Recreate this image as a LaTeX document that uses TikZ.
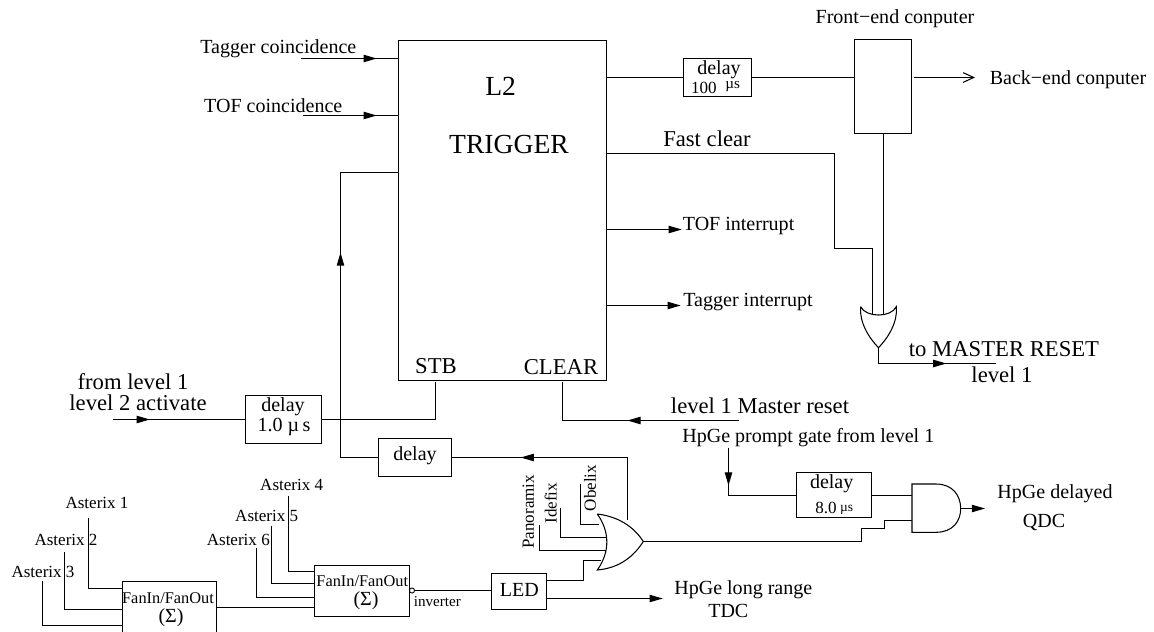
\documentclass[tikz,border=0pt]{standalone}
\usepackage{fontspec}
\setmainfont{Liberation Serif}
\usetikzlibrary{arrows.meta,decorations.markings}

\tikzset{
  wire/.style={line width=0.6pt},
  blockbox/.style 2 args={draw, line width=0.6pt, inner sep=0pt, outer sep=0pt,
      minimum width=#1*0.567pt, minimum height=#2*0.567pt},
  lbl/.style={inner sep=0pt, outer sep=0pt},
  txtL/.style={lbl, font=\fontsize{15.7}{18}\selectfont},
  txtM/.style={lbl, font=\fontsize{12.9}{15}\selectfont},
  txtN/.style={lbl, font=\fontsize{11.4}{13}\selectfont},
  txtS/.style={lbl, font=\fontsize{9.7}{11}\selectfont},
  txtF/.style={lbl, font=\fontsize{9.3}{11}\selectfont},
  txtT/.style={lbl, font=\fontsize{8.6}{10}\selectfont},
  endtip/.style={wire, -{Triangle[length=7.5pt,width=4.2pt]}},
  tipat/.style={wire, postaction={decorate, decoration={markings,
      mark=at position #1*0.567pt with {\arrow{Triangle[length=7.5pt,width=4.2pt]}}}}},
}

\begin{document}
\begin{tikzpicture}[x=0.02cm,y=-0.02cm]
  \useasboundingbox (0,0) rectangle (1154,632);

  % --- L2 trigger ---
  \node[blockbox={208}{342}] (trig) at (502.5,210.5) {};
  \node[txtL] (trigA) at (500.7,86) {L2};
  \node[txtL] (trigB) at (509,145) {TRIGGER};
  \node[txtM] (trigStb) at (436,366) {STB};
  \node[txtM] (trigClr) at (561,367) {CLEAR};

  % Trigger inputs
  \node[txtN] (tagCoin) at (278.3,49.2) {Tagger coincidence};
  \node[txtN] (tofCoin) at (273.3,105.7) {TOF coincidence};
  \coordinate (tagIn) at (301,58.5);
  \coordinate (tofIn) at (303,115.5);
  \draw[tipat=76] (tagIn) -- (tagIn -| trig.west);
  \draw[tipat=74] (tofIn) -- (tofIn -| trig.west);

  % --- Computers ---
  \node[blockbox={68}{38}] (delayC) at (717.5,77.5) {};
  \node[txtN] (delayCa) at (719,69.3) {delay};
  \node[txtS] (delayCb) at (703.8,87.5) {100};
  \node[txtT] (delayCc) at (732.7,86.5) {µs};
  \node[blockbox={57}{94}] (front) at (883,86.5) {};
  \node[txtN] (frontLbl) at (895,18.8) {Front−end conputer};
  \node[txtN] (backLbl) at (1068,79.3) {Back−end conputer};
  \coordinate (backA) at (914,77.5);
  \coordinate (backB) at (975,77.5);
  \draw[wire] (delayC.west -| trig.east) -- (delayC.west);
  \draw[wire] (delayC.east) -- (delayC.east -| front.west);
  \draw[wire, -{Straight Barb[length=6pt,width=5.5pt]}] (backA) -- (backB);

  % --- Fast clear and interrupts ---
  \node[txtM] (fastLbl) at (707,138.7) {Fast clear};
  \node[txtN] (tofInt) at (738.6,226) {TOF interrupt};
  \node[txtN] (tagInt) at (748,302) {Tagger interrupt};
  \coordinate (fastA) at (606.5,153.5);
  \coordinate (tofOut) at (681.8,229.5);
  \coordinate (tagOut) at (680.7,305.5);
  \draw[endtip] (tofOut -| trig.east) -- (tofOut);
  \draw[endtip] (tagOut -| trig.east) -- (tagOut);

  % OR gate to master reset
  \coordinate (orTopA) at (872.5,314);
  \coordinate (orTopB) at (883.5,314);
  \coordinate (orTip) at (878.5,347.7);
  \draw[wire] (860.7,306.7) .. controls (866,317.8) and (891,317.8) .. (896.3,306.7)
      .. controls (898,322) and (888,338) .. (orTip)
      .. controls (869,338) and (859,322) .. (860.7,306.7);
  \draw[wire] (fastA -| trig.east) -- (834.5,153.5) -- (834.5,248.5) -- (872.5,248.5) -- (orTopA);
  \draw[wire] (front.south -| orTopB) -- (orTopB);
  \coordinate (resetEnd) at (996,363.5);
  \draw[tipat=84] (orTip) -- (orTip |- resetEnd) -- (resetEnd);
  \node[txtM] (resetA) at (1004,349.2) {to MASTER RESET};
  \node[txtM] (resetB) at (1002,374.7) {level 1};

  % --- Level 1 inputs ---
  \node[txtM] (fromA) at (133,382) {from level 1};
  \node[txtM] (fromB) at (138,402.5) {level 2 activate};
  \node[blockbox={76}{48}] (delayA) at (283.5,419.5) {};
  \node[txtN] (delayAa) at (283,407) {delay};
  \node[txtN] (delayAb) at (284,427) {1.0 µ\,s};
  \coordinate (fromIn) at (113,419.5);
  \draw[tipat=37] (fromIn) -- (delayA.west);
  \draw[wire] (delayA.east) -- (435.5,419.5) -- (435.5,381.5);

  \node[txtM] (masterLbl) at (760,406) {level 1 Master reset};
  \coordinate (masterIn) at (739,420.5);
  \draw[tipat=112] (masterIn) -- (562.5,420.5) -- (562.5,381.5);

  % --- Feedback through delay ---
  \node[blockbox={73}{38}] (delayB) at (415,457.5) {};
  \node[txtN] (delayBa) at (415,455.5) {delay};
  \coordinate (fbTop) at (398,172.5);
  \draw[tipat=244] (delayB.west) -- (340.5,457.5) -- (340.5,172.5) -- (fbTop);

  % --- Asterix fan-in ---
  \node[blockbox={94}{60}] (fanA) at (169.5,611.5) {};
  \node[txtF] (fanAa) at (168,597.7) {FanIn/FanOut};
  \node[txtN] (fanAb) at (171,617.7) {(Σ)};
  \node[blockbox={95}{51}] (fanB) at (362,591) {};
  \node[txtF] (fanBa) at (362.3,580.7) {FanIn/FanOut};
  \node[txtN] (fanBb) at (366,601) {(Σ)};
  \node[txtS] (astA) at (97,503) {Asterix 1};
  \node[txtS] (astB) at (66,540.3) {Asterix 2};
  \node[txtS] (astC) at (43,572.3) {Asterix 3};
  \node[txtS] (astD) at (291.7,484.6) {Asterix 4};
  \node[txtS] (astE) at (266.7,515.6) {Asterix 5};
  \node[txtS] (astF) at (238.3,540) {Asterix 6};
  \draw[wire] (88.5,518.3) -- (88.5,588.5) -- (fanA.west |- 0,588.5);
  \draw[wire] (64.5,552) -- (64.5,609.5) -- (fanA.west |- 0,609.5);
  \draw[wire] (42.5,581.3) -- (42.5,625.5) -- (fanA.west |- 0,625.5);
  \draw[wire] (288.5,495.7) -- (288.5,571.5) -- (fanB.west |- 0,571.5);
  \draw[wire] (271.5,525.7) -- (271.5,583.5) -- (fanB.west |- 0,583.5);
  \draw[wire] (256.5,548.3) -- (256.5,597.5) -- (fanB.west |- 0,597.5);
  \draw[wire] (fanA.east |- 0,607.5) -- (fanB.west |- 0,607.5);

  % --- Inverter and LED ---
  \node[draw, circle, line width=0.5pt, inner sep=0pt, minimum size=2.9pt] (inv) at (412,590.5) {};
  \node[txtT] (invLbl) at (437.3,602) {inverter};
  \node[blockbox={55}{36}] (led) at (519,591.5) {};
  \node[txtN] (ledLbl) at (519.3,589.5) {LED};
  \draw[wire] (inv.east) -- (led.west |- inv.east);

  % --- Main OR gate ---
  \coordinate (orA) at (599.3,524.5);
  \coordinate (orB) at (606,537.5);
  \coordinate (orC) at (606,550.5);
  \coordinate (orD) at (600.7,560.5);
  \coordinate (orOut) at (643.3,541.5);
  \draw[wire] (597.3,514) .. controls (622,517) and (636,530) .. (orOut)
      .. controls (634,556) and (620,568) .. (597.3,570)
      .. controls (610,552) and (610,532) .. (597.3,514);
  \node[txtS, rotate=90] (obelix) at (590,488) {Obelix};
  \node[txtS, rotate=90] (idefix) at (550.7,503.3) {Idefix};
  \node[txtS, rotate=90] (panor) at (528.3,511.7) {Panoramix};
  \draw[wire] (580.5,484) -- (580.5,524.5) -- (orA);
  \draw[wire] (560.5,508.3) -- (560.5,537.5) -- (orB);
  \draw[wire] (539.5,525.3) -- (539.5,550.5) -- (orC);
  \draw[wire] (led.east |- 0,580.5) -- (583.5,580.5) -- (583.5,560.5) -- (orD);
  \draw[tipat=170] (627.5,520) -- (627.5,457.5) -- (delayB.east);
  \coordinate (ledOut) at (662.7,598.5);
  \draw[endtip] (led.east |- ledOut) -- (ledOut);
  \node[txtN] (longA) at (743.3,589.5) {HpGe long range};
  \node[txtN] (longB) at (728.3,610.5) {TDC};

  % --- HpGe delayed ---
  \node[txtN] (promptLbl) at (808.3,437.5) {HpGe prompt gate from level 1};
  \node[blockbox={75}{45}] (delayD) at (834,495) {};
  \node[txtN] (delayDa) at (831.7,484) {delay};
  \node[txtS] (delayDb) at (826,507.7) {8.0};
  \node[txtT, font=\fontsize{7.6}{9}\selectfont] (delayDc) at (846.5,509.5) {µs};
  \coordinate (promptIn) at (728.5,447.7);
  \draw[tipat=38] (promptIn) -- (728.5,495.5) -- (delayD.west |- 0,495.5);

  % AND gate
  \coordinate (andA) at (912,495.5);
  \coordinate (andB) at (912,520.5);
  \coordinate (andOut) at (960.7,508.5);
  \draw[wire] (912,484) -- (936,484) .. controls (953,484) and (960.7,496) .. (andOut)
      .. controls (960.7,521) and (953,532.3) .. (936,532.3) -- (912,532.3) -- cycle;
  \draw[wire] (delayD.east |- andA) -- (andA);
  \draw[wire] (orOut) -- (861.5,541.5) -- (861.5,528.5) -- (884.5,528.5) -- (884.5,520.5) -- (andB);
  \coordinate (qdcIn) at (985,508.5);
  \draw[endtip] (andOut) -- (qdcIn);
  \node[txtN] (qdcA) at (1055,494) {HpGe delayed};
  \node[txtN] (qdcB) at (1044,522) {QDC};
\end{tikzpicture}
\end{document}
